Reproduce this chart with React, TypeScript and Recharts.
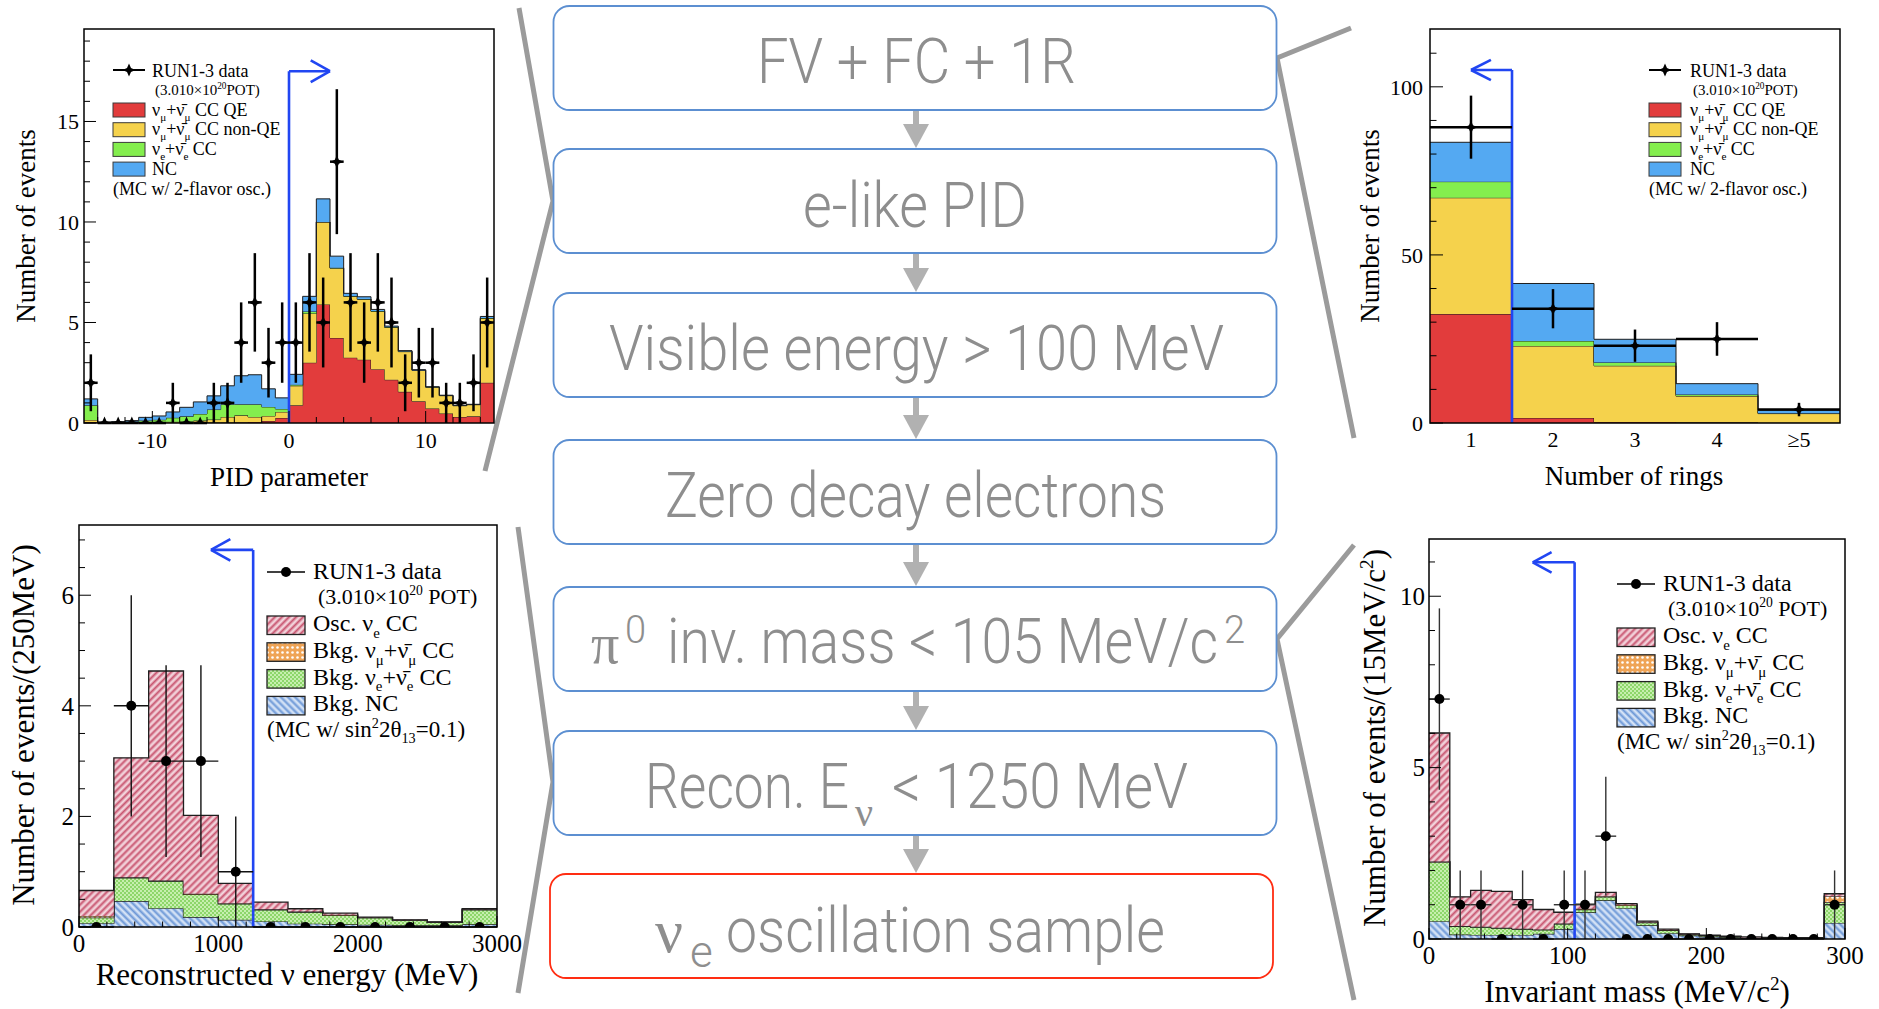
import React, { useMemo } from 'react';
import { ComposedChart, Area, Scatter, ErrorBar, XAxis, YAxis, ReferenceLine } from 'recharts';

const SERIF = '"Liberation Serif", "DejaVu Serif", serif';
const SANS = 'Roboto, "Noto Sans", sans-serif';
const CUT_BLUE = '#2146f2';

// ---------- PID parameter (top left) ----------
const pidEdges = [-15, -14, -13, -12, -11, -10, -9, -8, -7, -6, -5, -4, -3, -2, -1, 0, 1, 2, 3, 4, 5, 6, 7, 8, 9, 10, 11, 12, 13, 14, 15];
const pidData = [2, 0, 0, 0, 0, 0, 1, 0, 0, 1, 1, 4, 6, 3, 4, 4, 6, 5, 13, 6, 4, 6, 5, 2, 3, 3, 1, 1, 2, 5];
const pidQE = [0.05, 0, 0, 0, 0, 0, 0.01, 0.01, 0.02, 0.02, 0.03, 0.04, 0.05, 0.1, 0.25, 0.88, 3.0, 5.9, 4.23, 3.25, 3.15, 2.68, 2.15, 1.55, 1.08, 0.72, 0.47, 0.3, 0.33, 2.0];
const pidNonQE = [0.1, 0.01, 0.01, 0.02, 0.03, 0.04, 0.05, 0.07, 0.1, 0.15, 0.27, 0.34, 0.25, 0.25, 0.3, 0.97, 2.45, 4.1, 3.47, 3.05, 3.0, 2.87, 2.6, 2.0, 1.54, 1.06, 0.89, 0.56, 0.58, 3.2];
const pidNue = [0.73, 0.02, 0.03, 0.05, 0.1, 0.12, 0.2, 0.25, 0.33, 0.5, 0.63, 0.55, 0.63, 0.45, 0.15, 0.05, 0.1, 0.0, 0.02, 0.02, 0.02, 0.02, 0.02, 0.02, 0.01, 0.01, 0.01, 0.01, 0.01, 0.02];
const pidNC = [0.32, 0.02, 0.03, 0.05, 0.15, 0.19, 0.29, 0.45, 0.6, 0.68, 0.92, 1.42, 1.47, 0.9, 0.55, 0.52, 0.75, 1.15, 0.58, 0.13, 0.11, 0.08, 0.05, 0.03, 0.02, 0.01, 0.01, 0.01, 0.01, 0.08];

// ---------- Number of rings (top right) ----------
const ringEdges = [0.5, 1.5, 2.5, 3.5, 4.5, 5.5];
const ringLabels = ['1', '2', '3', '4', '≥5'];
const ringData = [88, 34, 23, 25, 4];
const ringQE = [32.4, 1.5, 0.3, 0.2, 0.1];
const ringNonQE = [34.6, 21.4, 16.7, 7.8, 2.7];
const ringNue = [4.8, 1.5, 1.0, 0.45, 0.1];
const ringNC = [11.7, 17.1, 6.9, 3.25, 0.9];

// ---------- Reconstructed neutrino energy (bottom left) ----------
const enuEdges = [0, 250, 500, 750, 1000, 1250, 1500, 1750, 2000, 2250, 2500, 2750, 3000];
const enuData = [0, 4, 3, 3, 1, 0, 0, 0, 0, 0, 0, 0];
const enuNC = [0.07, 0.47, 0.34, 0.18, 0.13, 0.1, 0.06, 0.05, 0.04, 0.03, 0.03, 0.05];
const enuBkgNue = [0.1, 0.42, 0.49, 0.41, 0.29, 0.21, 0.21, 0.16, 0.13, 0.09, 0.055, 0.26];
const enuBkgNumu = [0.03, 0.01, 0.01, 0.01, 0.01, 0.01, 0.01, 0.01, 0, 0, 0, 0.01];
const enuOsc = [0.46, 2.16, 3.79, 1.42, 0.36, 0.13, 0.05, 0.03, 0.01, 0.01, 0.005, 0.01];

// ---------- pi0 invariant mass (bottom right) ----------
const massEdges = [0, 15, 30, 45, 60, 75, 90, 105, 120, 135, 150, 165, 180, 195, 210, 225, 240, 255, 270, 285, 300];
const massData = [7, 1, 1, 0, 1, 0, 1, 1, 3, 0, 0, 0, 0, 0, 0, 0, 0, 0, 0, 1];
const massNC = [0.52, 0.13, 0.12, 0.12, 0.12, 0.15, 0.29, 0.78, 1.13, 0.9, 0.4, 0.17, 0.1, 0.06, 0.04, 0.03, 0.02, 0.02, 0.02, 0.47];
const massBkgNue = [1.72, 0.24, 0.23, 0.2, 0.17, 0.12, 0.15, 0.08, 0.1, 0.08, 0.08, 0.08, 0.03, 0.03, 0.02, 0.01, 0.01, 0.01, 0.01, 0.6];
const massBkgNumu = [0.02, 0.01, 0.01, 0.01, 0.01, 0.01, 0.01, 0.02, 0.02, 0.02, 0.01, 0.01, 0.01, 0.01, 0, 0, 0, 0, 0, 0.18];
const massOsc = [3.75, 0.85, 1.06, 1.06, 0.85, 0.58, 0.33, 0.14, 0.11, 0.03, 0.03, 0.03, 0.01, 0.01, 0.02, 0.02, 0.02, 0.01, 0.01, 0.07];

// ---------- flow of selection cuts ----------
const boxTops = [6, 149, 293, 440, 587, 731, 874];
const BOX_H = 104;

const steps = (from: number, to: number, step: number) => {
  const out: number[] = [];
  for (let v = from; v <= to + 1e-9; v += step) out.push(Math.round(v * 1000) / 1000);
  return out;
};
const near = (v: number, list: number[]) => list.some((m) => Math.abs(m - v) < 1e-6);

type Part = [string, ('sub' | 'sup')?];

const Rich = ({ x, y, size, parts, anchor = 'start', rotate = false, fill = '#000', family = SERIF }: {
  x: number; y: number; size: number; parts: Part[]; anchor?: 'start' | 'middle' | 'end'; rotate?: boolean; fill?: string; family?: string;
}) => {
  let shift = 0;
  return (
    <text x={x} y={y} fontSize={size} fontFamily={family} fill={fill} textAnchor={anchor}
      transform={rotate ? `rotate(-90 ${x} ${y})` : undefined} style={{ whiteSpace: 'pre' }}>
      {parts.map(([t, mode], i) => {
        const target = mode === 'sub' ? size * 0.28 : mode === 'sup' ? -size * 0.4 : 0;
        const dy = target - shift;
        shift = target;
        return <tspan key={i} dy={dy} fontSize={mode ? size * 0.62 : size}>{t}</tspan>;
      })}
    </text>
  );
};

const Star = ({ cx, cy }: { cx: number; cy: number }) => {
  const o = 6.5, i = 2;
  const pts = [[0, -o], [i, -i], [o, 0], [i, i], [0, o], [-i, i], [-o, 0], [-i, -i]]
    .map(([a, b]) => `${cx + a},${cy + b}`).join(' ');
  return <polygon points={pts} fill="#000" />;
};
const Dot = ({ cx, cy }: { cx: number; cy: number }) => <circle cx={cx} cy={cy} r={5} fill="#000" />;

type Layer = { key: string; values: number[]; fill: string };

interface PanelProps {
  left: number; top: number; width: number; height: number;
  plot: { left: number; top: number; right: number; bottom: number };
  edges: number[]; layers: Layer[]; counts: number[];
  yDomain: [number, number];
  xTicks: number[]; xMajors: number[]; yTicks: number[]; yMajors: number[];
  xText?: (v: number) => string;
  fontSize: number; xLabelDy: number; yLabelGap: number;
  yLen: number; xLen: number;
  marker: 'star' | 'dot'; errWidth: number; errColor: string; outline: number;
  cut: { x: number; top: number; tip: number; arm: number; spread: number };
}

const HistPanel: React.FC<PanelProps> = (p) => {
  // one row per bin edge; the last edge repeats the last bin so stepAfter closes the histogram
  const rows = useMemo(() => p.edges.map((x, i) => {
    const row: Record<string, number> = { x };
    p.layers.forEach((l) => { row[l.key] = l.values[Math.min(i, l.values.length - 1)]; });
    return row;
  }), [p.edges, p.layers]);

  const points = useMemo(() => p.counts.map((n, i) => ({
    x: (p.edges[i] + p.edges[i + 1]) / 2,
    y: n,
    ey: Math.sqrt(n),
    ex: (p.edges[i + 1] - p.edges[i]) / 2,
  })), [p.edges, p.counts]);

  const yTick = (t: any) => {
    const v = t.payload.value;
    const major = near(v, p.yMajors);
    return (
      <g>
        <line x1={t.x} x2={t.x + (major ? p.yLen : p.yLen / 2)} y1={t.y} y2={t.y} stroke="#000" strokeWidth={1} />
        {major && (
          <text x={t.x - p.yLabelGap} y={t.y} dy="0.35em" textAnchor="end" fontSize={p.fontSize} fontFamily={SERIF}>{v}</text>
        )}
      </g>
    );
  };

  const xTick = (t: any) => {
    const v = t.payload.value;
    const major = near(v, p.xMajors);
    return (
      <g>
        {p.xLen > 0 && <line x1={t.x} x2={t.x} y1={t.y} y2={t.y - (major ? p.xLen : p.xLen / 2)} stroke="#000" strokeWidth={1} />}
        {major && (
          <text x={t.x} y={t.y + p.xLabelDy} textAnchor="middle" fontSize={p.fontSize} fontFamily={SERIF}>
            {p.xText ? p.xText(v) : v}
          </text>
        )}
      </g>
    );
  };

  const c = p.cut;
  const lo = p.edges[0];
  const hi = p.edges[p.edges.length - 1];

  return (
    <div style={{ position: 'absolute', left: p.left, top: p.top }}>
      <ComposedChart width={p.width} height={p.height} data={rows}
        margin={{ top: p.plot.top, right: p.width - p.plot.right, bottom: 0, left: 0 }}>
        <XAxis dataKey="x" type="number" domain={[lo, hi]} ticks={p.xTicks} interval={0} tick={xTick}
          tickLine={false} axisLine={false} tickSize={0} tickMargin={0} height={p.height - p.plot.bottom} allowDataOverflow />
        <YAxis type="number" domain={p.yDomain} ticks={p.yTicks} interval={0} tick={yTick}
          tickLine={false} axisLine={false} tickSize={0} tickMargin={0} width={p.plot.left} allowDataOverflow />
        {p.layers.map((l) => (
          <Area key={l.key} type="stepAfter" dataKey={l.key} stackId="mc" fill={l.fill} fillOpacity={1}
            stroke="#1e1e1e" strokeWidth={p.outline} dot={false} activeDot={false} isAnimationActive={false} />
        ))}
        <ReferenceLine segment={[{ x: c.x, y: 0 }, { x: c.x, y: c.top }]} stroke={CUT_BLUE} strokeWidth={2.6} />
        <ReferenceLine segment={[{ x: c.x, y: c.top }, { x: c.tip, y: c.top }]} stroke={CUT_BLUE} strokeWidth={2.6} />
        <ReferenceLine segment={[{ x: c.tip, y: c.top }, { x: c.arm, y: c.top + c.spread }]} stroke={CUT_BLUE} strokeWidth={2.6} />
        <ReferenceLine segment={[{ x: c.tip, y: c.top }, { x: c.arm, y: c.top - c.spread }]} stroke={CUT_BLUE} strokeWidth={2.6} />
        <Scatter data={points} dataKey="y" isAnimationActive={false}
          shape={(s: any) => (p.marker === 'star' ? <Star cx={s.cx} cy={s.cy} /> : <Dot cx={s.cx} cy={s.cy} />)}>
          <ErrorBar dataKey="ey" direction="y" width={0} stroke={p.errColor} strokeWidth={p.errWidth} />
          <ErrorBar dataKey="ex" direction="x" width={0} stroke={p.errColor} strokeWidth={p.errWidth} />
        </Scatter>
      </ComposedChart>
    </div>
  );
};

const PatternDefs = () => (
  <svg width={0} height={0} style={{ position: 'absolute' }}>
    <defs>
      <pattern id="hatchOsc" width={5} height={5} patternUnits="userSpaceOnUse" patternTransform="rotate(45)">
        <rect width={5} height={5} fill="#e3a2b2" />
        <rect x={0} width={1.4} height={5} fill="#c85670" />
        <rect x={2.6} width={1.1} height={5} fill="#ffffff" opacity={0.85} />
      </pattern>
      <pattern id="hatchNc" width={5} height={5} patternUnits="userSpaceOnUse" patternTransform="rotate(-45)">
        <rect width={5} height={5} fill="#a7c3ea" />
        <rect x={0} width={1.4} height={5} fill="#6e98d6" />
        <rect x={2.6} width={1.1} height={5} fill="#ffffff" opacity={0.85} />
      </pattern>
      <pattern id="dotsNue" width={4} height={4} patternUnits="userSpaceOnUse">
        <rect width={4} height={4} fill="#8dd66a" />
        <rect x={0} y={0} width={2} height={2} fill="#c6efae" />
        <rect x={2} y={2} width={2} height={2} fill="#c6efae" />
      </pattern>
      <pattern id="dotsNumu" width={5} height={5} patternUnits="userSpaceOnUse">
        <rect width={5} height={5} fill="#efa456" />
        <circle cx={2.5} cy={2.5} r={1.3} fill="#ffffff" />
      </pattern>
    </defs>
  </svg>
);

const COL_QE = '#e23c3c';
const COL_NONQE = '#f5d24c';
const COL_NUE = '#84ee4e';
const COL_NC = '#54a9f2';

const topLegendItems: { fill: string; parts: Part[] }[] = [
  { fill: COL_QE, parts: [['ν'], ['μ', 'sub'], ['+ν\u0304'], ['μ', 'sub'], [' CC QE']] },
  { fill: COL_NONQE, parts: [['ν'], ['μ', 'sub'], ['+ν\u0304'], ['μ', 'sub'], [' CC non-QE']] },
  { fill: COL_NUE, parts: [['ν'], ['e', 'sub'], ['+ν\u0304'], ['e', 'sub'], [' CC']] },
  { fill: COL_NC, parts: [['NC']] },
];

const bottomLegendItems: { fill: string; parts: Part[] }[] = [
  { fill: 'url(#hatchOsc)', parts: [['Osc. ν'], ['e', 'sub'], [' CC']] },
  { fill: 'url(#dotsNumu)', parts: [['Bkg. ν'], ['μ', 'sub'], ['+ν\u0304'], ['μ', 'sub'], [' CC']] },
  { fill: 'url(#dotsNue)', parts: [['Bkg. ν'], ['e', 'sub'], ['+ν\u0304'], ['e', 'sub'], [' CC']] },
  { fill: 'url(#hatchNc)', parts: [['Bkg. NC']] },
];

const TopLegend = ({ x, tx }: { x: number; tx: number }) => (
  <g>
    <line x1={x} x2={x + 32} y1={70} y2={70} stroke="#000" strokeWidth={2} />
    <Star cx={x + 16} cy={70} />
    <Rich x={tx} y={77} size={18} parts={[['RUN1-3 data']]} />
    <Rich x={tx + 3} y={95} size={15} parts={[['(3.010×10'], ['20', 'sup'], ['POT)']]} />
    {topLegendItems.map((it, i) => (
      <g key={i}>
        <rect x={x} y={103 + i * 19.7} width={32} height={14} fill={it.fill} stroke="#3a3a3a" strokeWidth={1} />
        <Rich x={tx} y={115.5 + i * 19.7} size={18} parts={it.parts} />
      </g>
    ))}
    <Rich x={x} y={195} size={18} parts={[['(MC w/ 2-flavor osc.)']]} />
  </g>
);

const BottomLegend = ({ x, tx, y }: { x: number; tx: number; y: number }) => (
  <g>
    <line x1={x} x2={x + 38} y1={y} y2={y} stroke="#000" strokeWidth={1.5} />
    <Dot cx={x + 19} cy={y} />
    <Rich x={tx} y={y + 7} size={24} parts={[['RUN1-3 data']]} />
    <Rich x={tx + 5} y={y + 32} size={22} parts={[['(3.010×10'], ['20', 'sup'], [' POT)']]} />
    {bottomLegendItems.map((it, i) => (
      <g key={i}>
        <rect x={x} y={y + 44 + i * 26.8} width={38} height={18.5} fill={it.fill} stroke="#222" strokeWidth={1.3} />
        <Rich x={tx} y={y + 59 + i * 26.8} size={24} parts={it.parts} />
      </g>
    ))}
    <Rich x={x} y={y + 165} size={23} parts={[['(MC w/ sin'], ['2', 'sup'], ['2θ'], ['13', 'sub'], ['=0.1)']]} />
  </g>
);

const GRAY_TEXT = '#8e8e8e';

const FlowText = ({ x, y, w, s, size = 63 }: { x: number; y: number; w?: number; s: string; size?: number }) => (
  <text x={x} y={y} textLength={w} lengthAdjust={w ? 'spacingAndGlyphs' : undefined}
    fontFamily={SANS} fontWeight={300} fontSize={size} fill={GRAY_TEXT} style={{ whiteSpace: 'pre' }}>{s}</text>
);

const Overlay = () => (
  <svg width={1879} height={1009} style={{ position: 'absolute', left: 0, top: 0, pointerEvents: 'none' }}>
    {/* connectors between plots and the cut boxes */}
    <g stroke="#9b9b9b" strokeWidth={5} fill="none" strokeLinejoin="miter">
      <polyline points="519,8 553,201 485,471" />
      <polyline points="518,527 553,782 518,993" />
      <polyline points="1351,28 1277,58 1354,438" />
      <polyline points="1354,545 1277,639 1354,1000" />
    </g>

    {/* cut boxes */}
    {boxTops.map((t, i) => (
      <rect key={i} x={i === 6 ? 550 : 553.5} y={t} width={723} height={BOX_H} rx={16} ry={16}
        fill="#fff" stroke={i === 6 ? '#ff2d12' : '#5c8fd1'} strokeWidth={1.8} />
    ))}
    {boxTops.slice(0, 6).map((t, i) => {
      const b = t + BOX_H;
      const n = boxTops[i + 1];
      return (
        <g key={i} fill="#b1b1b1">
          <rect x={913} y={b + 1} width={6} height={n - 25 - b} />
          <polygon points={`${903},${n - 25} ${929},${n - 25} ${916},${n - 1}`} />
        </g>
      );
    })}
    <FlowText x={757} y={83} w={319} s="FV + FC + 1R" />
    <FlowText x={803} y={227} w={224} s="e-like PID" />
    <FlowText x={609} y={370} w={615} s="Visible energy > 100 MeV" />
    <FlowText x={665} y={517} w={501} s="Zero decay electrons" />
    <text x={591} y={663} fontFamily={SERIF} fontSize={56} fill={GRAY_TEXT}>π</text>
    <FlowText x={625} y={643} s="0" size={38} />
    <FlowText x={667} y={663} w={551} s="inv. mass < 105 MeV/c" />
    <FlowText x={1224} y={643} s="2" size={38} />
    <FlowText x={645} y={808} w={204} s="Recon. E" />
    <text x={855} y={826} fontFamily={SERIF} fontSize={40} fill={GRAY_TEXT}>ν</text>
    <FlowText x={892} y={808} w={296} s="< 1250 MeV" />
    <text x={655} y={952} fontFamily={SERIF} fontSize={62} fill={GRAY_TEXT}>ν</text>
    <FlowText x={690} y={967} s="e" size={44} />
    <FlowText x={726} y={952} w={439} s="oscillation sample" />

    {/* plot frames */}
    <g fill="none" stroke="#000" strokeWidth={1.5}>
      <rect x={84} y={29} width={410} height={394} />
      <rect x={1430} y={29} width={410} height={394} />
      <rect x={79} y={525} width={418} height={402} />
      <rect x={1429} y={539} width={416} height={400} />
    </g>

    {/* axis titles */}
    <Rich x={35} y={226} size={27} anchor="middle" rotate parts={[['Number of events']]} />
    <Rich x={289} y={486} size={27} anchor="middle" parts={[['PID parameter']]} />
    <Rich x={1379} y={226} size={27} anchor="middle" rotate parts={[['Number of events']]} />
    <Rich x={1634} y={485} size={27} anchor="middle" parts={[['Number of rings']]} />
    <Rich x={34} y={725} size={31} anchor="middle" rotate parts={[['Number of events/(250MeV)']]} />
    <Rich x={287} y={985} size={31} anchor="middle" parts={[['Reconstructed ν energy (MeV)']]} />
    <Rich x={1385} y={738} size={31} anchor="middle" rotate parts={[['Number of events/(15MeV/c'], ['2', 'sup'], [')']]} />
    <Rich x={1637} y={1002} size={31} anchor="middle" parts={[['Invariant mass (MeV/c'], ['2', 'sup'], [')']]} />

    <TopLegend x={113} tx={152} />
    <TopLegend x={1649} tx={1690} />
    <BottomLegend x={267} tx={313} y={572} />
    <BottomLegend x={1617} tx={1663} y={584} />
  </svg>
);

const pidLayers: Layer[] = [
  { key: 'qe', values: pidQE, fill: COL_QE },
  { key: 'nonqe', values: pidNonQE, fill: COL_NONQE },
  { key: 'nue', values: pidNue, fill: COL_NUE },
  { key: 'nc', values: pidNC, fill: COL_NC },
];
const ringLayers: Layer[] = [
  { key: 'qe', values: ringQE, fill: COL_QE },
  { key: 'nonqe', values: ringNonQE, fill: COL_NONQE },
  { key: 'nue', values: ringNue, fill: COL_NUE },
  { key: 'nc', values: ringNC, fill: COL_NC },
];
const enuLayers: Layer[] = [
  { key: 'nc', values: enuNC, fill: 'url(#hatchNc)' },
  { key: 'nue', values: enuBkgNue, fill: 'url(#dotsNue)' },
  { key: 'numu', values: enuBkgNumu, fill: 'url(#dotsNumu)' },
  { key: 'osc', values: enuOsc, fill: 'url(#hatchOsc)' },
];
const massLayers: Layer[] = [
  { key: 'nc', values: massNC, fill: 'url(#hatchNc)' },
  { key: 'nue', values: massBkgNue, fill: 'url(#dotsNue)' },
  { key: 'numu', values: massBkgNumu, fill: 'url(#dotsNumu)' },
  { key: 'osc', values: massOsc, fill: 'url(#hatchOsc)' },
];

export default function App() {
  return (
    <div style={{ position: 'absolute', left: 0, top: 0, width: 1879, height: 1009, background: '#fff', overflow: 'hidden' }}>
      <PatternDefs />
      <HistPanel
        left={0} top={0} width={520} height={500}
        plot={{ left: 84, top: 29, right: 494, bottom: 423 }}
        edges={pidEdges} layers={pidLayers} counts={pidData}
        yDomain={[0, 19.6]}
        xTicks={steps(-14, 14, 2)} xMajors={[-10, 0, 10]}
        yTicks={steps(0, 19, 1)} yMajors={[0, 5, 10, 15]}
        fontSize={22} xLabelDy={25} yLabelGap={5} yLen={12} xLen={12}
        marker="star" errWidth={2.5} errColor="#000" outline={1}
        cut={{ x: 0, top: 17.5, tip: 3.0, arm: 1.59, spread: 0.54 }}
      />
      <HistPanel
        left={1340} top={0} width={539} height={500}
        plot={{ left: 90, top: 29, right: 500, bottom: 423 }}
        edges={ringEdges} layers={ringLayers} counts={ringData}
        yDomain={[0, 117.2]}
        xTicks={[1, 2, 3, 4, 5]} xMajors={[1, 2, 3, 4, 5]} xText={(v) => ringLabels[v - 1]}
        yTicks={steps(0, 110, 10)} yMajors={[0, 50, 100]}
        fontSize={22} xLabelDy={24} yLabelGap={7} yLen={13} xLen={0}
        marker="star" errWidth={2.5} errColor="#000" outline={1}
        cut={{ x: 1.5, top: 105, tip: 1.0, arm: 1.243, spread: 3.0 }}
      />
      <HistPanel
        left={0} top={510} width={540} height={499}
        plot={{ left: 79, top: 15, right: 497, bottom: 417 }}
        edges={enuEdges} layers={enuLayers} counts={enuData}
        yDomain={[0, 7.27]}
        xTicks={steps(0, 3000, 200)} xMajors={[0, 1000, 2000, 3000]}
        yTicks={steps(0, 7, 0.5)} yMajors={[0, 2, 4, 6]}
        fontSize={25} xLabelDy={25} yLabelGap={5} yLen={12} xLen={11}
        marker="dot" errWidth={1.4} errColor="#111" outline={1.3}
        cut={{ x: 1250, top: 6.82, tip: 947, arm: 1086, spread: 0.193 }}
      />
      <HistPanel
        left={1340} top={510} width={539} height={499}
        plot={{ left: 89, top: 29, right: 505, bottom: 429 }}
        edges={massEdges} layers={massLayers} counts={massData}
        yDomain={[0, 11.67]}
        xTicks={steps(0, 300, 20)} xMajors={[0, 100, 200, 300]}
        yTicks={steps(0, 11, 1)} yMajors={[0, 5, 10]}
        fontSize={25} xLabelDy={25} yLabelGap={4} yLen={12} xLen={11}
        marker="dot" errWidth={1.4} errColor="#333" outline={1.3}
        cut={{ x: 105, top: 10.99, tip: 74.8, arm: 88.4, spread: 0.3 }}
      />
      <Overlay />
    </div>
  );
}
